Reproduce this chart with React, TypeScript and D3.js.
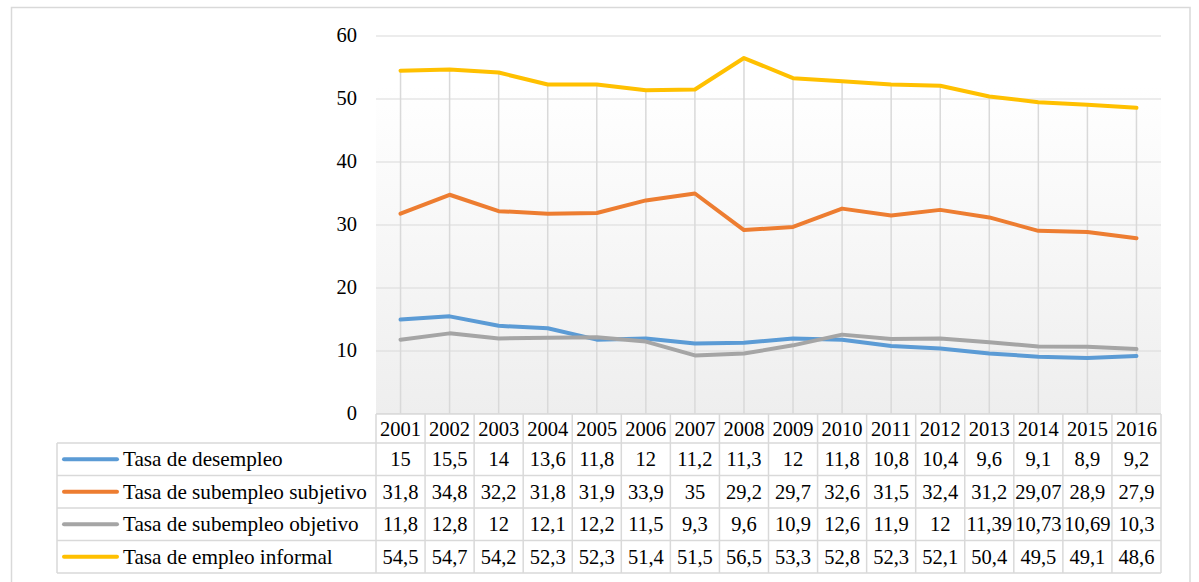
import React from "react";
import * as d3 from "d3";

const years = ["2001","2002","2003","2004","2005","2006","2007","2008","2009","2010","2011","2012","2013","2014","2015","2016"];
const seriesNames = ["Tasa de desempleo","Tasa de subempleo subjetivo","Tasa de subempleo objetivo","Tasa de empleo informal"];
const seriesColors = ["#5B9BD5","#ED7D31","#A5A5A5","#FFC000"];
const desempleo = [15,15.5,14,13.6,11.8,12,11.2,11.3,12,11.8,10.8,10.4,9.6,9.1,8.9,9.2];
const subjetivo = [31.8,34.8,32.2,31.8,31.9,33.9,35,29.2,29.7,32.6,31.5,32.4,31.2,29.07,28.9,27.9];
const objetivo = [11.8,12.8,12,12.1,12.2,11.5,9.3,9.6,10.9,12.6,11.9,12,11.39,10.73,10.69,10.3];
const informal = [54.5,54.7,54.2,52.3,52.3,51.4,51.5,56.5,53.3,52.8,52.3,52.1,50.4,49.5,49.1,48.6];
const yTicks = [0,10,20,30,40,50,60];

const allSeries = [desempleo, subjetivo, objetivo, informal];

const fmt = (v: number) => String(v).replace(".", ",");

export default function App() {
  const W = 1199, H = 582;
  const plotL = 376, plotR = 1161, plotT = 36, plotB = 414;
  const x = d3.scaleBand<string>().domain(years).range([plotL, plotR]).paddingInner(0).paddingOuter(0);
  const y = d3.scaleLinear().domain([0, 60]).range([plotB, plotT]);
  const cx = (yr: string) => (x(yr) as number) + x.bandwidth() / 2;
  const line = d3.line<number>().x((_, i) => cx(years[i])).y(d => y(d));

  const headerTop = plotB, headerBot = 443;
  const rowH = 32.5;
  const legL = 57;
  const gridColor = "#d9d9d9";
  const font = "Liberation Serif, Times New Roman, serif";
  const ts = { fontFamily: font, fontSize: "20.5px" };
  const ls = { fontFamily: font, fontSize: "21.2px" };
  const axs = { fontFamily: font, fontSize: "20.5px" };

  const tableBot = headerBot + rowH * seriesNames.length;

  return (
    <svg width={W} height={H} style={{ position: "absolute", left: 0, top: 0, background: "#fff" }}>
      <defs>
        <linearGradient id="bg" x1="0" y1="0" x2="0" y2="1">
          <stop offset="0" stopColor="#ffffff" />
          <stop offset="0.13" stopColor="#ffffff" />
          <stop offset="1" stopColor="#eeeeee" />
        </linearGradient>
      </defs>
      <rect x={11.5} y={7.5} width={1178.5} height={600} fill="#fff" stroke={gridColor} strokeWidth={1.5} />
      <rect x={plotL} y={plotT} width={plotR - plotL} height={plotB - plotT} fill="url(#bg)" />
      {yTicks.map(t => (
        <g key={t}>
          <line x1={plotL} x2={plotR} y1={y(t)} y2={y(t)} stroke={gridColor} strokeWidth={1.2} />
          <text x={357} y={y(t)} dy="0.3em" textAnchor="end" style={axs} fill="#000">{t}</text>
        </g>
      ))}
      {years.map((yr, i) => {
        const mx = Math.max(...allSeries.map(s => s[i]));
        return <line key={yr} x1={cx(yr)} x2={cx(yr)} y1={y(mx)} y2={plotB} stroke={gridColor} strokeWidth={1.5} />;
      })}
      {allSeries.map((s, k) => (
        <path key={k} d={line(s) as string} fill="none" stroke={seriesColors[k]} strokeWidth={4} strokeLinejoin="round" strokeLinecap="round" />
      ))}
      {/* table */}
      <rect x={plotL} y={headerTop} width={plotR - plotL} height={headerBot - headerTop} fill="#fff" />
      <rect x={legL} y={headerBot} width={plotR - legL} height={tableBot - headerBot} fill="#fff" />
      {years.map(yr => (
        <text key={yr} x={cx(yr)} y={(headerTop + headerBot) / 2 + 1} dy="0.33em" textAnchor="middle" style={ts} fill="#000">{yr}</text>
      ))}
      {seriesNames.map((name, k) => {
        const top = headerBot + k * rowH;
        const mid = top + rowH / 2;
        return (
          <g key={name}>
            <line x1={64} x2={117} y1={mid} y2={mid} stroke={seriesColors[k]} strokeWidth={4} strokeLinecap="round" />
            <text x={123} y={mid} dy="0.33em" style={ls} fill="#000">{name}</text>
            {years.map((yr, i) => (
              <text key={yr} x={cx(yr)} y={mid} dy="0.33em" textAnchor="middle" style={ts} fill="#000">{fmt(allSeries[k][i])}</text>
            ))}
          </g>
        );
      })}
      {/* table grid lines */}
      <line x1={plotL} x2={plotR} y1={headerTop} y2={headerTop} stroke={gridColor} strokeWidth={1.5} />
      {[0, 1, 2, 3, 4].map(k => (
        <line key={k} x1={legL} x2={plotR} y1={headerBot + k * rowH} y2={headerBot + k * rowH} stroke={gridColor} strokeWidth={1.5} />
      ))}
      <line x1={legL} x2={legL} y1={headerBot} y2={tableBot} stroke={gridColor} strokeWidth={1.5} />
      {years.map(yr => (
        <line key={yr} x1={x(yr) as number} x2={x(yr) as number} y1={headerTop} y2={tableBot} stroke={gridColor} strokeWidth={1.5} />
      ))}
      <line x1={plotR} x2={plotR} y1={headerTop} y2={tableBot} stroke={gridColor} strokeWidth={1.5} />
    </svg>
  );
}
